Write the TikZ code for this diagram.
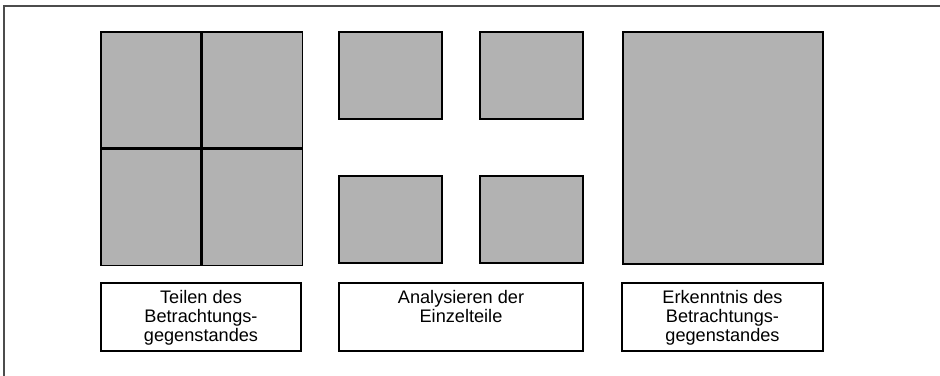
\documentclass[tikz,border=0pt]{standalone}
\usepackage{fontspec}
\setmainfont{Liberation Sans}
\usepackage{tikz}
\usetikzlibrary{positioning}

\tikzset{
  feld/.style={draw, fill=gray!60, line width=0.9pt, inner sep=0pt},
  textfeld/.style={draw, line width=1.1pt, inner sep=0pt,
    minimum height=2.04cm},
  beschriftung/.style={align=center, inner sep=0pt,
    font=\fontsize{15.5}{16.2}\selectfont}
}

\begin{document}
\begin{tikzpicture}[x=0.03cm, y=-0.03cm]

  \useasboundingbox (0,0) rectangle (940,376);
  \draw [line width=1.2pt, black!70] (4,376) -- (4,6) -- (940,6);

  % Teilen
  \node [feld, minimum width=3cm, minimum height=3.48cm] (T1) at (151,90) {};
  \node [feld, minimum width=3cm, minimum height=3.48cm, right=0pt of T1] (T2) {};
  \node [feld, minimum width=3cm, minimum height=3.48cm, below=0pt of T1] (T3) {};
  \node [feld, minimum width=3cm, minimum height=3.48cm, right=0pt of T3] (T4) {};

  % Einzelteile
  \node [feld, minimum width=3.09cm, minimum height=2.61cm] (E1) at (390.5,75.5) {};
  \node [feld, minimum width=3.09cm, minimum height=2.61cm] (E2) at (531.5,75.5) {};
  \node [feld, minimum width=3.09cm, minimum height=2.61cm] (E3) at (390.5,219.5) {};
  \node [feld, minimum width=3.09cm, minimum height=2.61cm] (E4) at (531.5,219.5) {};

  % Erkenntnis
  \node [feld, minimum width=6cm, minimum height=6.96cm] (G) at (723,148) {};

  % Textfelder
  \node [textfeld, minimum width=6cm] (teilen) at (201,317) {};
  \node [textfeld, minimum width=7.32cm] (analyse) at (461,317) {};
  \node [textfeld, minimum width=6.03cm] (erkenntnis) at (722.5,317) {};

  \node [beschriftung, below=0.22cm of teilen.north]
    {Teilen des\\Betrachtungs-\\gegenstandes};
  \node [beschriftung, below=0.22cm of analyse.north]
    {Analysieren der\\Einzelteile};
  \node [beschriftung, below=0.22cm of erkenntnis.north]
    {Erkenntnis des\\Betrachtungs-\\gegenstandes};

\end{tikzpicture}
\end{document}
